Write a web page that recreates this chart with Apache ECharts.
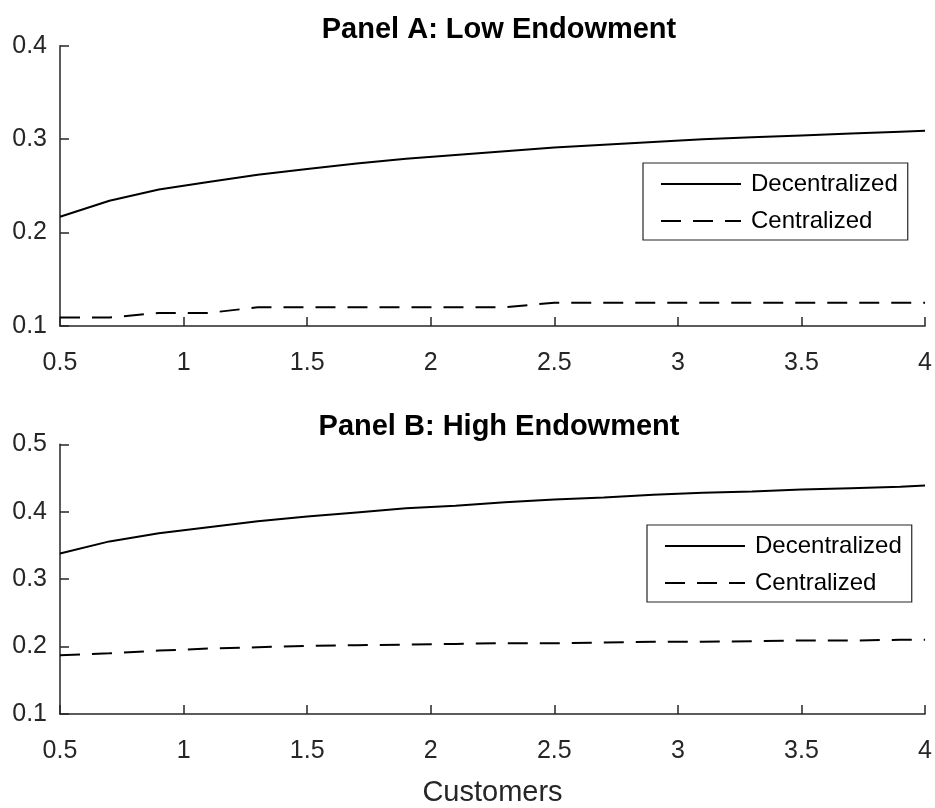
<!DOCTYPE html>
<html><head><meta charset="utf-8">
<script src="https://cdn.jsdelivr.net/npm/echarts@6/dist/echarts.min.js"></script>
<style>html,body{margin:0;padding:0;background:#fff}#c{width:935px;height:808px}</style>
</head><body><div id="c"></div>
<script>
const xs = [0.5,0.7,0.9,1.1,1.3,1.5,1.7,1.9,2.1,2.3,2.5,2.7,2.9,3.1,3.3,3.5,3.7,3.9,4.0];
const decA = [0.217,0.234,0.246,0.254,0.262,0.268,0.274,0.279,0.283,0.287,0.291,0.294,0.297,0.300,0.302,0.304,0.306,0.308,0.309];
const cenA = [0.109,0.109,0.114,0.114,0.120,0.120,0.120,0.120,0.120,0.120,0.125,0.125,0.125,0.125,0.125,0.125,0.125,0.125,0.125];
const decB = [0.338,0.356,0.368,0.377,0.386,0.393,0.399,0.405,0.409,0.414,0.418,0.421,0.425,0.428,0.430,0.433,0.435,0.437,0.439];
const cenB = [0.187,0.190,0.194,0.197,0.199,0.201,0.202,0.203,0.204,0.205,0.205,0.206,0.207,0.207,0.208,0.209,0.209,0.210,0.210];
const titles = ['Panel A: Low Endowment','Panel B: High Endowment'];
const xLabel = 'Customers';
const names = ['Decentralized','Centralized'];

const FONT = 'Liberation Sans, Arial, Helvetica, sans-serif';
const AX = '#262626';
const pair = (ys) => xs.map((x,i)=>[x, ys[i]]);

function xAxis(gi, withName){
  return {type:'value', gridIndex:gi, min:0.5, max:4, interval:0.5,
    axisLine:{show:true, onZero:false, lineStyle:{color:AX, width:1.5}},
    axisTick:{show:true, inside:true, length:9, lineStyle:{color:AX, width:1.5}},
    axisLabel:{color:AX, fontSize:25, fontFamily:FONT, margin:25},
    splitLine:{show:false},
    name: withName ? xLabel : '', nameLocation:'middle', nameGap:64,
    nameTextStyle:{color:AX, fontSize:29, fontFamily:FONT}};
}
function yAxis(gi, max){
  return {type:'value', gridIndex:gi, min:0.1, max:max, interval:0.1,
    axisLine:{show:true, onZero:false, lineStyle:{color:AX, width:1.5}},
    axisTick:{show:true, inside:true, length:9, lineStyle:{color:AX, width:1.5}},
    axisLabel:{color:AX, fontSize:25, fontFamily:FONT, margin:13},
    splitLine:{show:false}};
}
function series(name, gi, data, dashed){
  return {name:name, type:'line', xAxisIndex:gi, yAxisIndex:gi, data:data,
    showSymbol:false, symbol:'none', animation:false,
    lineStyle:{color:'#000', width:2, type: dashed ? [20,12] : 'solid'},
    itemStyle:{color:'#000'}};
}
function legend(left, top){
  return {orient:'vertical', left:left, top:top, data:names,
    itemWidth:80, itemHeight:14, itemGap:13,
    padding:[9,10,7,17],
    borderColor:AX, borderWidth:1.2, backgroundColor:'#fff',
    selectedMode:false,
    itemStyle:{opacity:0},
    textStyle:{color:'#000', fontSize:24, fontFamily:FONT, padding:[0,0,0,5]}};
}

const chart = echarts.init(document.getElementById('c'), null, {renderer:'canvas'});
chart.setOption({
  backgroundColor:'#fff',
  animation:false,
  title:[
    {text:titles[0], left:494, textAlign:'center', top:10, textStyle:{fontSize:29, fontWeight:'bold', color:'#000', fontFamily:FONT}},
    {text:titles[1], left:494, textAlign:'center', top:407, textStyle:{fontSize:29, fontWeight:'bold', color:'#000', fontFamily:FONT}}
  ],
  grid:[
    {left:60, top:45.7, width:868, height:280.3},
    {left:60, top:444.3, width:868, height:279}
  ],
  xAxis:[xAxis(0,false), xAxis(1,true)],
  yAxis:[yAxis(0,0.4), yAxis(1,0.5)],
  legend:[legend(643,163), legend(647,525)],
  series:[
    series(names[0],0,pair(decA),false),
    series(names[1],0,pair(cenA),true),
    series(names[0],1,pair(decB),false),
    series(names[1],1,pair(cenB),true)
  ]
});
</script></body></html>
